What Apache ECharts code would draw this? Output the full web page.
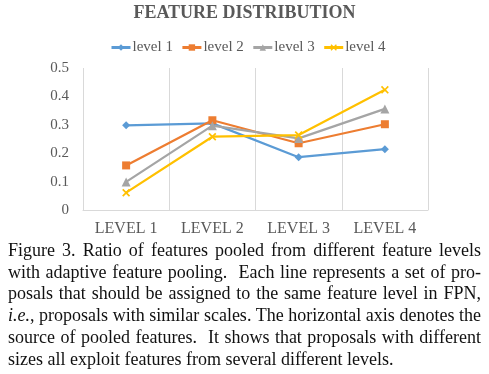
<!DOCTYPE html>
<html>
<head>
<meta charset="utf-8">
<script src="https://cdn.jsdelivr.net/npm/echarts@6/dist/echarts.min.js"></script>
<style>
  html, body { margin: 0; padding: 0; background: #fff; }
  #wrap { position: relative; width: 489px; height: 374px; overflow: hidden; }
  #chart { position: absolute; left: 0; top: 0; width: 489px; height: 374px; }
  #caption { position: absolute; left: 8px; top: 240px; width: 473px;
    font-family: "Liberation Serif", "Times New Roman", serif; font-size: 18px;
    line-height: 21.7px; color: #111; }
  #caption .j { text-align: justify; text-align-last: justify; }
</style>
</head>
<body>
<div id="wrap">
  <div id="chart"></div>
  <div id="caption">
    <div class="j">Figure 3. Ratio of features pooled from different feature levels</div>
    <div class="j">with adaptive feature pooling.&nbsp; Each line represents a set of pro-</div>
    <div class="j">posals that should be assigned to the same feature level in FPN,</div>
    <div class="j"><i>i.e.</i>, proposals with similar scales. The horizontal axis denotes the</div>
    <div class="j">source of pooled features.&nbsp; It shows that proposals with different</div>
    <div>sizes all exploit features from several different levels.</div>
  </div>
</div>
<script>
const categories = ['LEVEL 1', 'LEVEL 2', 'LEVEL 3', 'LEVEL 4'];
const seriesNames = ['level 1', 'level 2', 'level 3', 'level 4'];
const level1 = [0.298, 0.305, 0.186, 0.214];
const level2 = [0.157, 0.316, 0.235, 0.302];
const level3 = [0.099, 0.297, 0.252, 0.356];
const level4 = [0.061, 0.258, 0.264, 0.423];
const yTicks = [0, 0.1, 0.2, 0.3, 0.4, 0.5];

const colors = ['#5B9BD5', '#ED7D31', '#A5A5A5', '#FFC000'];
const xPath = 'path://M1.5,0L5,3.5L8.5,0L10,1.5L6.5,5L10,8.5L8.5,10L5,6.5L1.5,10L0,8.5L3.5,5L0,1.5Z';
const symbols = ['diamond', 'rect', 'triangle', xPath];
const symbolSizes = [8, 8, 9, 8];
const allData = [level1, level2, level3, level4];

const chart = echarts.init(document.getElementById('chart'), null, { renderer: 'canvas' });
chart.setOption({
  animation: false,
  color: colors,
  title: {
    text: 'FEATURE DISTRIBUTION',
    left: 'center',
    top: 0,
    padding: [4, 5],
    textStyle: { fontFamily: 'Liberation Serif, serif', fontWeight: 'bold', fontSize: 18, color: '#595959' }
  },
  legend: {
    data: seriesNames,
    left: 105,
    top: 35,
    itemWidth: 19,
    itemHeight: 8,
    itemGap: 8,
    lineStyle: { width: 3 },
    textStyle: { fontFamily: 'Liberation Serif, serif', fontSize: 15, color: '#595959', padding: [0, 0, 0, -3] }
  },
  grid: { left: 83, right: 61, top: 68, bottom: 164, containLabel: false },
  xAxis: {
    type: 'category',
    data: categories,
    boundaryGap: true,
    axisLine: { show: true, lineStyle: { color: '#D9D9D9', width: 1 } },
    axisTick: { show: false },
    splitLine: { show: true, lineStyle: { color: '#D9D9D9', width: 1 } },
    axisLabel: { fontFamily: 'Liberation Serif, serif', fontSize: 16, color: '#595959', margin: 11 }
  },
  yAxis: {
    type: 'value',
    min: yTicks[0],
    max: yTicks[yTicks.length - 1],
    interval: yTicks[1] - yTicks[0],
    axisLine: { show: false },
    axisTick: { show: false },
    splitLine: { show: false },
    axisLabel: { fontFamily: 'Liberation Serif, serif', fontSize: 15, color: '#595959', margin: 14,
      formatter: v => String(Math.round(v * 10) / 10) }
  },
  series: seriesNames.map((name, i) => ({
    name,
    type: 'line',
    data: allData[i],
    symbol: symbols[i],
    symbolSize: symbolSizes[i],
    lineStyle: { width: 2.25, color: colors[i] },
    itemStyle: { color: colors[i] }
  }))
});
</script>
</body>
</html>
